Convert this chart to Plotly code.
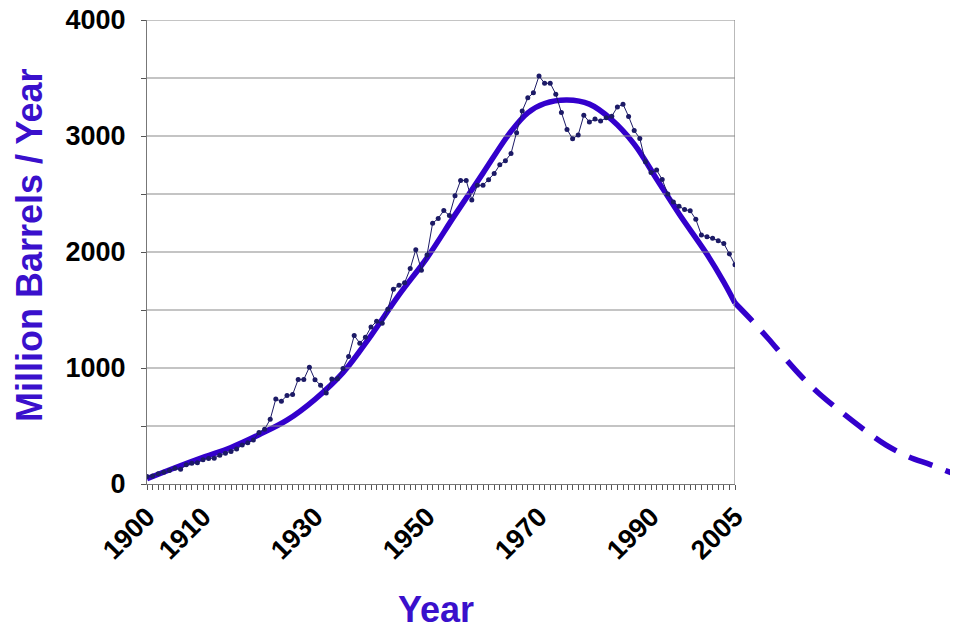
import plotly.graph_objects as go

# ---------------- data ----------------
years = list(range(1900, 2006))
production = [
    63.6, 69.4, 88.8, 100.5, 117.1, 134.7, 126.5, 166.1, 178.5, 183.2,
    209.6, 220.4, 222.9, 248.4, 265.8, 281.1, 300.8, 335.3, 355.9, 378.4,
    442.9, 472.2, 557.5, 732.4, 713.9, 763.7, 770.9, 901.1, 901.5, 1007.3,
    898.0, 851.1, 785.2, 905.7, 908.1, 996.6, 1099.7, 1279.2, 1214.4, 1265.0,
    1353.2, 1402.2, 1386.6, 1505.6, 1677.9, 1713.7, 1733.9, 1857.0, 2020.2, 1841.9,
    1973.6, 2247.7, 2289.8, 2357.1, 2315.0, 2484.4, 2617.3, 2616.9, 2449.0, 2574.6,
    2574.9, 2621.8, 2676.2, 2752.7, 2786.8, 2848.5, 3027.8, 3215.7, 3329.0, 3371.8,
    3517.5, 3453.9, 3455.4, 3360.9, 3202.6, 3056.8, 2976.2, 3009.3, 3178.2, 3121.3,
    3146.4, 3128.6, 3156.7, 3171.0, 3249.7, 3274.6, 3168.3, 3047.4, 2979.1, 2778.8,
    2684.7, 2707.0, 2624.6, 2499.0, 2431.5, 2394.3, 2366.0, 2354.8, 2281.9, 2146.7,
    2130.7, 2117.5, 2097.1, 2073.5, 1983.3, 1890.1,
]

fit_years = [1900, 1905, 1910, 1915, 1920, 1925, 1930, 1935, 1940, 1945, 1950,
             1955, 1960, 1965, 1968, 1971, 1975, 1979, 1983, 1987, 1991, 1995,
             2000, 2003, 2005]
fit_values = [45, 140, 230, 315, 425, 550, 730, 960, 1280, 1630, 1950,
              2320, 2680, 3040, 3200, 3280, 3310, 3275, 3140, 2930, 2630, 2330,
              1980, 1740, 1560]

forecast_years = [2005, 2008, 2011, 2014, 2017, 2020, 2024, 2028, 2032, 2036, 2040, 2045]
forecast_values = [1560, 1410, 1250, 1080, 920, 780, 620, 470, 335, 235, 165, 70]

x_labels = {1900: "1900", 1910: "1910", 1930: "1930", 1950: "1950",
            1970: "1970", 1990: "1990", 2005: "2005"}
y_ticks = [0, 500, 1000, 1500, 2000, 2500, 3000, 3500, 4000]
y_labels = ["0", "", "1000", "", "2000", "", "3000", "", "4000"]

# ---------------- styling ----------------
CURVE = "#3300cc"
DATA = "#1c1a66"
TITLE = "#3a10cc"
GRID = "#8a8a8a"
FONT = "Liberation Sans, Arial, sans-serif"

# the page body adds an 8px offset; the figure is sized to fit the window
OFF = 8
W, H = 958 - OFF, 629 - OFF

fig = go.Figure()

fig.add_trace(go.Scatter(
    x=fit_years, y=fit_values, mode="lines",
    line=dict(color=CURVE, width=5.5, shape="spline", smoothing=1.0),
    xaxis="x", yaxis="y", hoverinfo="skip", showlegend=False))

fig.add_trace(go.Scatter(
    x=forecast_years, y=forecast_values, mode="lines",
    line=dict(color=CURVE, width=5.5, shape="spline", smoothing=1.0, dash="25px,14px"),
    xaxis="x", yaxis="y", hoverinfo="skip", showlegend=False))

fig.add_trace(go.Scatter(
    x=years, y=production, mode="lines+markers",
    line=dict(color=DATA, width=1),
    marker=dict(color=DATA, size=5, symbol="circle"),
    xaxis="x2", yaxis="y", showlegend=False))

# gridlines and right border only across the data span
shapes = []
for v in y_ticks[1:]:
    shapes.append(dict(type="line", xref="x2", yref="y", x0=1900, x1=2005, y0=v, y1=v,
                       line=dict(color=GRID, width=1.2), layer="below"))
shapes.append(dict(type="line", xref="x2", yref="y", x0=2005, x1=2005, y0=0, y1=4000,
                   line=dict(color=GRID, width=1.2), layer="below"))

# target positions in window pixels
plot_left, plot_right = 147, 958
plot_top, plot_bottom = 20, 484
span_right = 735
dom2 = (span_right - plot_left) / (plot_right - plot_left)
ph = plot_bottom - plot_top

fig.update_layout(
    width=W, height=H,
    margin=dict(l=plot_left - OFF, r=958 - plot_right, t=plot_top - OFF,
                b=629 - plot_bottom, autoexpand=False),
    paper_bgcolor="white", plot_bgcolor="rgba(0,0,0,0)",
    font=dict(family=FONT, color="black"),
    xaxis=dict(domain=[0, 1], range=[1900, 1900 + (plot_right - plot_left) / 5.6],
               visible=False, fixedrange=True, automargin=False),
    xaxis2=dict(domain=[0, dom2], range=[1900, 2005], anchor="y", automargin=False,
                tickmode="array", tickvals=years,
                ticktext=[x_labels.get(y, "") for y in years],
                tickangle=-45, ticks="outside", ticklen=5, tickcolor="#555",
                tickwidth=1, showline=True, linecolor="#777", linewidth=1.2,
                showgrid=False, zeroline=False, ticklabeloverflow="allow",
                tickfont=dict(size=27, family=FONT, color="black", weight="bold")),
    yaxis=dict(range=[0, 4000], tickmode="array", tickvals=y_ticks, ticktext=y_labels,
               ticks="outside", ticklen=5, tickcolor="#555", showline=True,
               linecolor="#777", linewidth=1.2, showgrid=False, zeroline=False,
               ticklabelstandoff=10, automargin=False, ticklabeloverflow="allow",
               tickfont=dict(size=27, family=FONT, color="black", weight="bold")),
    shapes=shapes,
    annotations=[
        dict(text="Million Barrels / Year", xref="paper", yref="paper",
             x=(29 - plot_left) / (plot_right - plot_left), y=(plot_bottom - 245) / ph,
             xanchor="center", yanchor="middle", textangle=-90, showarrow=False,
             font=dict(size=36, family=FONT, color=TITLE, weight="bold")),
        dict(text="Year", xref="paper", yref="paper",
             x=(436 - plot_left) / (plot_right - plot_left), y=(plot_bottom - 609) / ph,
             xanchor="center", yanchor="middle", showarrow=False,
             font=dict(size=36, family=FONT, color=TITLE, weight="bold")),
    ],
)

fig.write_html("out.html")
